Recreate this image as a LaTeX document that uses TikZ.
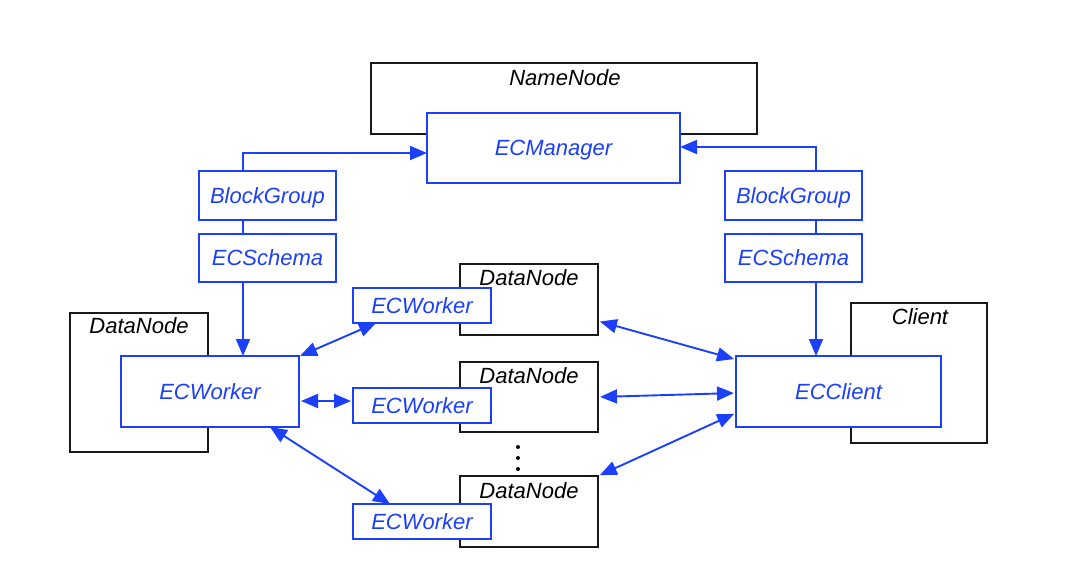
\documentclass[tikz,border=0pt]{standalone}
\usepackage{fontspec}
\setmainfont{Liberation Sans}
\usetikzlibrary{arrows.meta}
\definecolor{ecblue}{RGB}{28,64,250}
\definecolor{boxblack}{RGB}{25,25,25}
\begin{document}
\begin{tikzpicture}[x=1pt,y=-1pt,
  every node/.style={inner sep=0pt,outer sep=0pt,text depth=0pt,font=\fontsize{22}{26}\selectfont\itshape},
  blk/.style={draw=boxblack,line width=1.9pt,fill=white,rectangle},
  bbox/.style={draw=ecblue,line width=1.9pt,fill=white,text=ecblue,rectangle},
  lbl/.style={text=black},
  conn/.style={draw=ecblue,line width=1.9pt},
  arr/.style={conn,-{Triangle[length=17pt,width=14pt]}},
  darr/.style={conn,{Triangle[length=17pt,width=14pt]}-{Triangle[length=17pt,width=14pt]}},
  dotm/.style={fill=black,circle,minimum size=4pt}
]
\useasboundingbox (0,0) rectangle (1088,570);

% containers
\node[blk,minimum width=386pt,minimum height=71pt] (nn) at (564,98.5) {};
\node[lbl] (nnl) at (565,78) {NameNode};
\node[blk,minimum width=138pt,minimum height=139pt] (dnl) at (139,382.5) {};
\node[lbl] (dnll) at (139,326) {DataNode};
\node[blk,minimum width=138pt,minimum height=71pt] (dn1) at (529,299.5) {};
\node[lbl] (dn1l) at (529,278) {DataNode};
\node[blk,minimum width=138pt,minimum height=70pt] (dn2) at (529,397) {};
\node[lbl] (dn2l) at (529,376) {DataNode};
\node[blk,minimum width=138pt,minimum height=71pt] (dn3) at (529,511.5) {};
\node[lbl] (dn3l) at (529,491) {DataNode};
\node[blk,minimum width=136pt,minimum height=140pt] (cl) at (919,373) {};
\node[lbl] (cll) at (920,317) {Client};

% blue components
\node[bbox,minimum width=253pt,minimum height=70pt] (ecm) at (553.5,148) {ECManager};
\node[bbox,minimum width=137pt,minimum height=49pt] (bgl) at (267.5,195.5) {BlockGroup};
\node[bbox,minimum width=137pt,minimum height=48pt] (esl) at (267.5,258) {ECSchema};
\node[bbox,minimum width=137pt,minimum height=49pt] (bgr) at (793.5,195.5) {BlockGroup};
\node[bbox,minimum width=137pt,minimum height=48pt] (esr) at (793.5,258) {ECSchema};
\node[bbox,minimum width=178pt,minimum height=71pt] (ecw) at (210,391.5) {ECWorker};
\node[bbox,minimum width=138pt,minimum height=35pt] (w1) at (422,305.5) {ECWorker};
\node[bbox,minimum width=138pt,minimum height=35pt] (w2) at (422,405.5) {ECWorker};
\node[bbox,minimum width=138pt,minimum height=35pt] (w3) at (422,521.5) {ECWorker};
\node[bbox,minimum width=205pt,minimum height=71pt] (ecc) at (838.5,391.5) {ECClient};

% dots
\node[dotm] (d1) at (518,447) {};
\node[dotm] (d2) at (518,458) {};
\node[dotm] (d3) at (518,469) {};

% connectors
\coordinate (lx) at (243,153);
\coordinate (rx) at (816,147);
\coordinate (my) at (0,401);
\draw[arr] (bgl.north -| lx) |- (ecm.west |- lx);
\draw[conn] (bgl.south -| lx) -- (esl.north -| lx);
\draw[arr] (esl.south -| lx) -- (ecw.north -| lx);
\draw[arr] (bgr.north -| rx) |- (ecm.east |- rx);
\draw[conn] (bgr.south -| rx) -- (esr.north -| rx);
\draw[arr] (esr.south -| rx) -- (ecc.north -| rx);

\draw[darr] ([xshift=1pt]ecw.north east) -- ([xshift=23pt]w1.south west);
\draw[darr,shorten <=2pt,shorten >=2pt] (ecw.east |- my) -- (w2.west |- my);
\draw[darr] ([xshift=60pt]ecw.south) -- ([xshift=37pt]w3.north west);

\draw[darr,shorten <=2pt] ([yshift=14pt]dn1.south east) -- ([xshift=-2pt,yshift=-3pt]ecc.north west);
\draw[darr,shorten <=2pt,shorten >=2pt] (dn2.east) -- ([yshift=-1.5pt]ecc.west);
\draw[darr,shorten <=2pt,shorten >=2pt] (dn3.north east) -- ([yshift=-21.5pt]ecc.west);
\end{tikzpicture}
\end{document}
